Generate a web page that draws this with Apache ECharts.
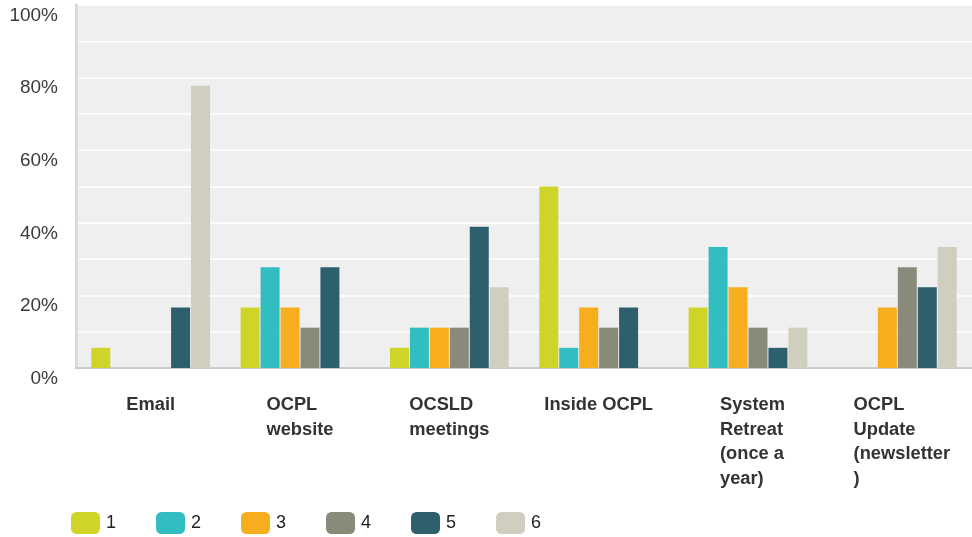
<!DOCTYPE html>
<html>
<head>
<meta charset="utf-8">
<script src="https://cdn.jsdelivr.net/npm/echarts@6/dist/echarts.min.js"></script>
<style>
html,body{margin:0;padding:0;background:#fff;}
#chart{width:972px;height:537px;}
</style>
</head>
<body>
<div id="chart"></div>
<script>
const categories = ['Email', 'OCPL\nwebsite', 'OCSLD\nmeetings', 'Inside OCPL', 'System\nRetreat\n(once a\nyear)', 'OCPL\nUpdate\n(newsletter\n)'];
const seriesNames = ['1', '2', '3', '4', '5', '6'];
const s1 = [5.56, 16.67, 5.56, 50.00, 16.67, 0];
const s2 = [0, 27.78, 11.11, 5.56, 33.33, 0];
const s3 = [0, 16.67, 11.11, 16.67, 22.22, 16.67];
const s4 = [0, 11.11, 11.11, 11.11, 11.11, 27.78];
const s5 = [16.67, 27.78, 38.89, 16.67, 5.56, 22.22];
const s6 = [77.78, 0, 22.22, 0, 11.11, 33.33];
const yTicks = [0, 20, 40, 60, 80, 100];
const colors = ['#CFD428', '#32BEC0', '#F6AE1F', '#8A8A7A', '#2E5F6D', '#D0CEBF'];

const allSeries = [s1, s2, s3, s4, s5, s6];
const chart = echarts.init(document.getElementById('chart'), null, {renderer: 'canvas'});
const labelFont = {fontFamily: 'Liberation Sans, Arial, sans-serif', fontSize: 18.3, fontWeight: 'bold', color: '#333', lineHeight: 24.5};
chart.setOption({
  animation: false,
  color: colors,
  grid: {left: 76, right: 0, top: 5, bottom: 169, show: true, backgroundColor: '#EFEFEF', borderWidth: 0},
  legend: {
    data: seriesNames,
    left: 66, top: 507,
    icon: 'roundRect',
    itemWidth: 29, itemHeight: 22, itemGap: 40,
    textStyle: {fontFamily: 'Liberation Sans, Arial, sans-serif', fontSize: 18, color: '#222', padding: [0, 0, 6, 1]}
  },
  xAxis: {
    type: 'category',
    data: categories,
    axisLine: {show: true, lineStyle: {color: '#CCCCCC', width: 2}},
    axisTick: {show: false},
    splitLine: {show: false},
    axisLabel: {
      interval: 0,
      margin: 25,
      align: 'center',
      formatter: function (v) {
        const lines = v.split('\n');
        const key = lines.length > 2 ? 'p' : 'l';
        return lines.map(function (l) { return '{' + key + '|' + l + '}'; }).join('\n');
      },
      rich: {
        l: Object.assign({align: 'left'}, labelFont),
        p: Object.assign({align: 'left', padding: [0, 0, 0, 9]}, labelFont)
      }
    }
  },
  yAxis: {
    type: 'value',
    min: 0, max: 100, interval: 10,
    axisLine: {show: true, lineStyle: {color: '#DADADA', width: 3}},
    axisTick: {show: false},
    splitLine: {show: true, lineStyle: {color: '#FFFFFF', width: 1.5}},
    axisLabel: {
      margin: 18,
      verticalAlign: 'top',
      padding: [1, 0, 0, 0],
      fontFamily: 'Liberation Sans, Arial, sans-serif', fontSize: 19, color: '#3a3a3a',
      formatter: function (v) { return yTicks.indexOf(v) >= 0 ? v + '%' : ''; }
    }
  },
  series: allSeries.map(function (d, i) {
    return {
      name: seriesNames[i], type: 'bar', data: d,
      barWidth: 19, barGap: '5%',
      itemStyle: {color: colors[i]}
    };
  })
});
</script>
</body>
</html>
